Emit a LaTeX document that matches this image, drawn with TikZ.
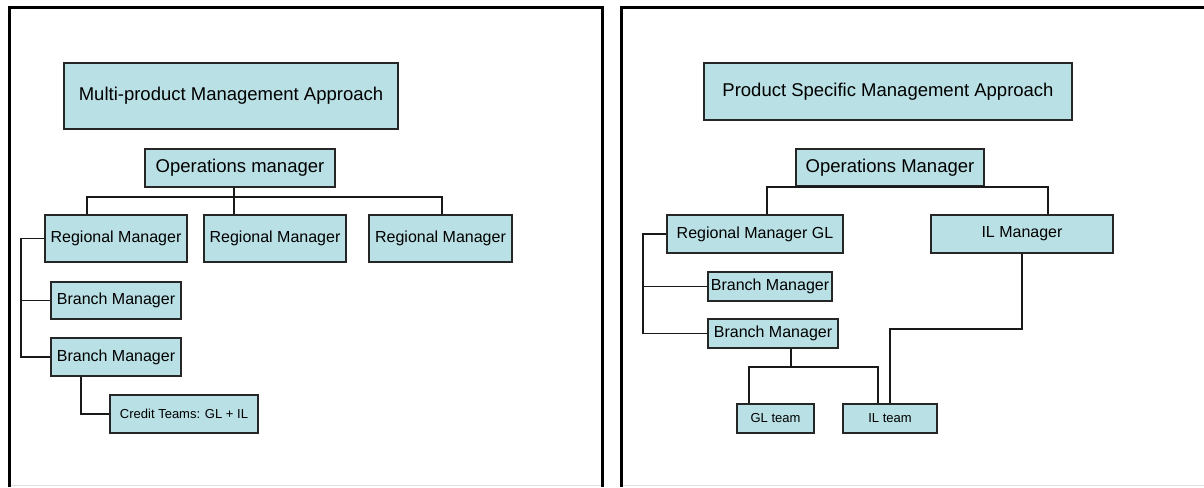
\documentclass[tikz,border=0pt]{standalone}
\usepackage{fontspec}
\setmainfont{Liberation Sans}
\definecolor{boxfill}{RGB}{185,224,228}

\begin{document}
\begin{tikzpicture}[x=1pt,y=-1pt]
\tikzstyle{box} = [draw=black!85, line width=1.3pt, fill=boxfill, inner sep=0pt, font=\fontsize{16}{19}\selectfont]
\tikzstyle{bigbox} = [box, font=\fontsize{18.5}{22}\selectfont]
\tikzstyle{smallbox} = [box, font=\fontsize{13}{16}\selectfont]
\tikzstyle{link} = [black!90, line width=1.3pt]
\tikzstyle{frame} = [black, line width=3pt]

\fill[white] (0,0) rectangle (1204,487);
\useasboundingbox (0,0) rectangle (1204,487);

% the two panels, open at the bottom
\draw[frame] (9.5,487) -- (9.5,7.5) -- (602.5,7.5) -- (602.5,487);
\draw[frame] (621.5,487) -- (621.5,7.5) -- (1204,7.5);
\draw[black!12, line width=1pt] (11,485.5) -- (601,485.5);
\draw[black!12, line width=1pt] (623,485.5) -- (1204,485.5);

%% multi-product side
\node[bigbox, minimum width=334pt, minimum height=66pt] (mtitle) at (231,96) {Multi-product Management Approach};
\node[bigbox, minimum width=190pt, minimum height=38pt] (mops) at (240,168) {Operations manager};
\node[box, minimum width=142pt, minimum height=47pt] (mreg1) at (116,238.5) {Regional Manager};
\node[box, minimum width=142pt, minimum height=47pt] (mreg2) at (275,238.5) {Regional Manager};
\node[box, minimum width=143pt, minimum height=47pt] (mreg3) at (440.5,238.5) {Regional Manager};
\node[box, minimum width=130pt, minimum height=37pt] (mbr1) at (116,300.5) {Branch Manager};
\node[box, minimum width=130pt, minimum height=38pt] (mbr2) at (116,357) {Branch Manager};
\node[smallbox, minimum width=148pt, minimum height=38pt] (mteam) at (184,414) {Credit Teams: GL + IL};

\coordinate (mbusL) at (87,197);
\coordinate (mbusM) at (234,197);
\coordinate (mbusR) at (442,197);
\coordinate (mside) at (21,0);
\coordinate (mdrop) at (81,0);

\draw[link] (mbusM |- mops.south) -- (mbusM |- mreg2.north);
\draw[link] (mbusL |- mreg1.north) -- (mbusL) -- (mbusR) -- (mbusR |- mreg3.north);
\draw[link] (mreg1.west) -| (mside |- mbr2.west) -- (mbr2.west);
\draw[link] (mside |- mbr1.west) -- (mbr1.west);
\draw[link] (mdrop |- mbr2.south) |- (mteam.west);

%% product specific side
\node[bigbox, minimum width=368pt, minimum height=57pt] (ptitle) at (888,91.5) {Product Specific Management Approach};
\node[bigbox, minimum width=188pt, minimum height=37pt] (pops) at (890,167.5) {Operations Manager};
\node[box, minimum width=176pt, minimum height=38pt] (preg) at (755,234) {Regional Manager GL};
\node[box, minimum width=182pt, minimum height=38pt] (pil) at (1022,234) {IL Manager};
\node[box, minimum width=124pt, minimum height=29pt] (pbr1) at (770,286.5) {Branch Manager};
\node[box, minimum width=130pt, minimum height=29pt] (pbr2) at (773,333.5) {Branch Manager};
\node[smallbox, minimum width=77pt, minimum height=29pt] (pgl) at (775.5,418.5) {GL team};
\node[smallbox, minimum width=94pt, minimum height=29pt] (pilt) at (890,418.5) {IL team};

\coordinate (pbusL) at (767,187);
\coordinate (pbusR) at (1048,187);
\coordinate (pside) at (643,0);
\coordinate (pteam) at (791,367);
\coordinate (pteamL) at (749,367);
\coordinate (pteamR) at (878,367);
\coordinate (pilbend) at (0,329);

\draw[link] (pbusL |- preg.north) -- (pbusL) -- (pbusR) -- (pbusR |- pil.north);
\draw[link] (preg.west) -| (pside |- pbr2.west) -- (pbr2.west);
\draw[link] (pside |- pbr1.west) -- (pbr1.west);
\draw[link] (pteam |- pbr2.south) -- (pteam);
\draw[link] (pteamL |- pgl.north) |- (pteamR) -- (pteamR |- pilt.north);
\draw[link] (pil.south) |- (pilbend -| pilt.north) -- (pilt.north);

\end{tikzpicture}
\end{document}
